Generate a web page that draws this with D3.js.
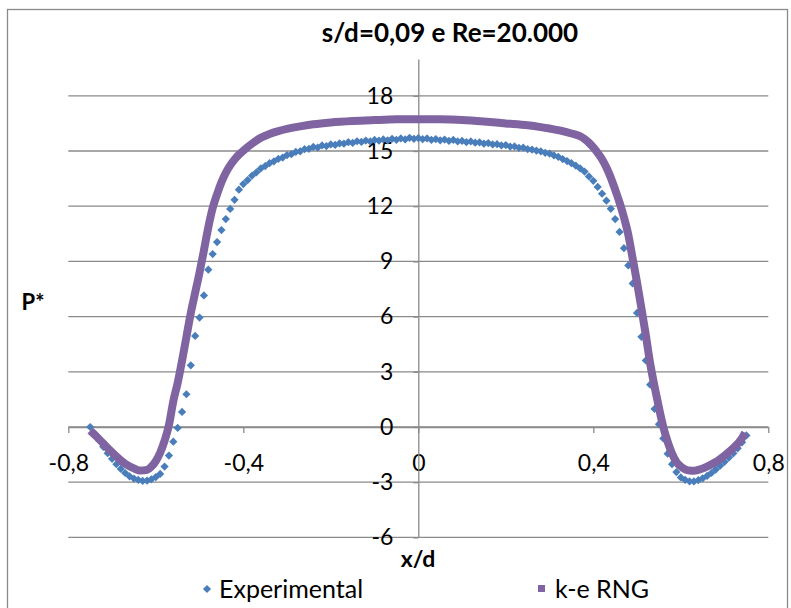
<!DOCTYPE html>
<html>
<head>
<meta charset="utf-8">
<script src="https://cdn.jsdelivr.net/npm/d3@7"></script>
<style>
  body { margin: 0; background: #fff; }
  svg text { font-family: Lato, "Open Sans", sans-serif; fill: #000; }
</style>
</head>
<body>
<svg id="chart" width="791" height="608"></svg>
<script>
var title = "s/d=0,09 e Re=20.000";
var seriesNames = ["Experimental", "k-e RNG"];

var xTicks = [-0.8, -0.4, 0, 0.4, 0.8];
var xTickLabels = ["-0,8", "-0,4", "0", "0,4", "0,8"];
var yTicks = [-6, -3, 0, 3, 6, 9, 12, 15, 18];
var yTickLabels = ["-6", "-3", "0", "3", "6", "9", "12", "15", "18"];

// experimental points
var expX = [-0.75, -0.74, -0.73, -0.72, -0.71, -0.70, -0.69, -0.68, -0.67, -0.66,
  -0.65, -0.64, -0.63, -0.62, -0.61, -0.60, -0.59, -0.58, -0.57, -0.56,
  -0.55, -0.54, -0.53, -0.52, -0.51, -0.50, -0.49, -0.48, -0.47, -0.46,
  -0.45, -0.44, -0.43, -0.42, -0.41, -0.40, -0.39, -0.38, -0.37, -0.36,
  -0.35, -0.34, -0.33, -0.32, -0.31, -0.30, -0.29, -0.28, -0.27, -0.26,
  -0.25, -0.24, -0.23, -0.22, -0.21, -0.20, -0.19, -0.18, -0.17, -0.16,
  -0.15, -0.14, -0.13, -0.12, -0.11, -0.10, -0.09, -0.08, -0.07, -0.06,
  -0.05, -0.04, -0.03, -0.02, -0.01, 0.00, 0.01, 0.02, 0.03, 0.04,
  0.05, 0.06, 0.07, 0.08, 0.09, 0.10, 0.11, 0.12, 0.13, 0.14,
  0.15, 0.16, 0.17, 0.18, 0.19, 0.20, 0.21, 0.22, 0.23, 0.24,
  0.25, 0.26, 0.27, 0.28, 0.29, 0.30, 0.31, 0.32, 0.33, 0.34,
  0.35, 0.36, 0.37, 0.38, 0.39, 0.40, 0.41, 0.42, 0.43, 0.44,
  0.45, 0.46, 0.47, 0.48, 0.49, 0.50, 0.51, 0.52, 0.53, 0.54,
  0.55, 0.56, 0.57, 0.58, 0.59, 0.60, 0.61, 0.62, 0.63, 0.64,
  0.65, 0.66, 0.67, 0.68, 0.69, 0.70, 0.71, 0.72, 0.73, 0.74, 0.75];
var expP = [0.00, -0.35, -0.72, -1.08, -1.42, -1.73, -2.02, -2.28, -2.50, -2.68,
  -2.80, -2.88, -2.93, -2.92, -2.84, -2.72, -2.55, -2.15, -1.55, -0.80,
  -0.05, 0.82, 1.78, 3.35, 4.95, 5.95, 7.15, 8.55, 9.40, 10.05,
  10.70, 11.30, 11.85, 12.35, 12.90, 13.20, 13.42, 13.66, 13.84, 14.05,
  14.18, 14.34, 14.44, 14.57, 14.64, 14.78, 14.83, 14.95, 14.98, 15.10,
  15.12, 15.22, 15.19, 15.30, 15.27, 15.36, 15.33, 15.42, 15.40, 15.48,
  15.44, 15.53, 15.49, 15.57, 15.52, 15.60, 15.56, 15.63, 15.58, 15.66,
  15.61, 15.68, 15.63, 15.72, 15.66, 15.70, 15.64, 15.68, 15.60, 15.65,
  15.58, 15.62, 15.55, 15.60, 15.52, 15.55, 15.48, 15.52, 15.45, 15.47,
  15.40, 15.43, 15.36, 15.37, 15.30, 15.32, 15.24, 15.25, 15.17, 15.18,
  15.10, 15.08, 15.02, 14.98, 14.90, 14.86, 14.76, 14.68, 14.56, 14.45,
  14.34, 14.20, 14.05, 13.88, 13.62, 13.38, 13.05, 12.68, 12.30, 11.86,
  11.30, 10.60, 9.72, 8.78, 7.80, 6.20, 4.90, 3.62, 2.30, 0.98,
  0.15, -0.62, -1.45, -2.02, -2.45, -2.74, -2.88, -2.95, -2.96, -2.89,
  -2.79, -2.66, -2.50, -2.31, -2.10, -1.89, -1.66, -1.43, -1.16, -0.83, -0.46];

// k-e RNG simulation curve
var rngX = [-0.75, -0.73, -0.71, -0.69, -0.67, -0.65, -0.635, -0.62, -0.61, -0.60,
  -0.59, -0.58, -0.57, -0.56, -0.55, -0.54, -0.53, -0.52, -0.51, -0.50,
  -0.49, -0.48, -0.47, -0.46, -0.45, -0.44, -0.43, -0.42, -0.41, -0.40,
  -0.38, -0.36, -0.34, -0.32, -0.30, -0.27, -0.24, -0.20, -0.15, -0.10,
  -0.05, 0.00, 0.05, 0.10, 0.15, 0.20, 0.25, 0.28, 0.30, 0.33,
  0.35, 0.37, 0.38, 0.39, 0.40, 0.41, 0.42, 0.43, 0.44, 0.45,
  0.46, 0.47, 0.48, 0.49, 0.50, 0.51, 0.52, 0.53, 0.54, 0.55,
  0.56, 0.57, 0.58, 0.59, 0.60, 0.61, 0.62, 0.63, 0.64, 0.66,
  0.68, 0.70, 0.72, 0.74, 0.747];
var rngP = [-0.20, -0.65, -1.15, -1.60, -2.00, -2.25, -2.37, -2.33, -2.15, -1.85,
  -1.40, -0.75, 0.10, 1.40, 2.40, 3.60, 4.90, 6.20, 7.30, 8.40,
  9.60, 10.85, 11.90, 12.65, 13.30, 13.82, 14.22, 14.54, 14.80, 15.02,
  15.40, 15.72, 15.93, 16.08, 16.20, 16.34, 16.45, 16.55, 16.63, 16.68,
  16.72, 16.73, 16.72, 16.68, 16.60, 16.50, 16.40, 16.30, 16.22, 16.08,
  15.95, 15.80, 15.65, 15.45, 15.20, 14.90, 14.55, 14.10, 13.55, 12.90,
  12.20, 11.40, 10.45, 9.15, 7.85, 6.45, 5.00, 3.45, 2.20, 1.05,
  0.00, -0.80, -1.45, -1.90, -2.15, -2.30, -2.37, -2.38, -2.33, -2.15,
  -1.90, -1.55, -1.15, -0.60, -0.31];

var colors = ["#4a7ebb", "#8064a2"];
var gridColor = "#8a8a8a";

var svg = d3.select("#chart");

var x = d3.scaleLinear().domain([-0.8, 0.8]).range([68.3, 768.3]);
var y = d3.scaleLinear().domain([-6, 20]).range([537.4, 59]);

// chart border
svg.append("rect")
  .attr("x", 7.5).attr("y", 9.5).attr("width", 780).attr("height", 620)
  .attr("fill", "none").attr("stroke", gridColor).attr("stroke-width", 1.3);

svg.append("text")
  .attr("x", 450).attr("y", 42)
  .attr("text-anchor", "middle")
  .style("font-size", "26px").style("font-weight", "bold")
  .text(title);

// horizontal gridlines
svg.append("g").selectAll("line").data(yTicks).enter().append("line")
  .attr("x1", x.range()[0]).attr("x2", x.range()[1])
  .attr("y1", function(d) { return y(d); })
  .attr("y2", function(d) { return y(d); })
  .attr("stroke", gridColor).attr("stroke-width", 1.3);

var xAxis = svg.append("g")
  .attr("transform", "translate(0," + y(0) + ")")
  .call(d3.axisBottom(x).tickValues(xTicks).tickSize(6).tickSizeOuter(0).tickPadding(22)
    .tickFormat(function(d, i) { return xTickLabels[i]; }));

var yAxis = svg.append("g")
  .attr("transform", "translate(" + x(0) + ",0)")
  .call(d3.axisLeft(y).tickValues(yTicks).tickSize(5).tickSizeOuter(0).tickPadding(20)
    .tickFormat(function(d, i) { return yTickLabels[i]; }));

[xAxis, yAxis].forEach(function(g) {
  g.selectAll("path, line").attr("stroke", gridColor).attr("stroke-width", 1.3);
  g.selectAll("text").style("font-size", "23px").attr("fill", "#000")
    .style("font-family", "Lato, 'Open Sans', sans-serif");
});

// experimental markers
var diamond = d3.symbol().type(d3.symbolSquare).size(34);
svg.append("g").selectAll("path").data(expX).enter().append("path")
  .attr("d", diamond)
  .attr("transform", function(d, i) { return "translate(" + x(d) + "," + y(expP[i]) + ") rotate(45)"; })
  .attr("fill", colors[0]);

// k-e RNG curve
var line = d3.line()
  .x(function(d) { return x(d); })
  .y(function(d, i) { return y(rngP[i]); })
  .curve(d3.curveMonotoneX);

svg.append("path")
  .datum(rngX)
  .attr("d", line)
  .attr("fill", "none")
  .attr("stroke", colors[1])
  .attr("stroke-width", 8)
  .attr("stroke-linejoin", "round");

// axis titles
svg.append("text")
  .attr("x", 33).attr("y", 310)
  .attr("text-anchor", "middle")
  .style("font-size", "22px").style("font-weight", "bold")
  .text("P*");

svg.append("text")
  .attr("x", 418).attr("y", 567)
  .attr("text-anchor", "middle")
  .style("font-size", "23px").style("font-weight", "bold")
  .text("x/d");

// legend
var legend = svg.append("g");
legend.append("path")
  .attr("d", diamond)
  .attr("transform", "translate(207,589) rotate(45)")
  .attr("fill", colors[0]);
legend.append("text")
  .attr("x", 219).attr("y", 598)
  .style("font-size", "25px")
  .text(seriesNames[0]);
legend.append("rect")
  .attr("x", 538).attr("y", 585).attr("width", 7).attr("height", 7)
  .attr("fill", colors[1]);
legend.append("text")
  .attr("x", 555).attr("y", 598)
  .style("font-size", "25px")
  .text(seriesNames[1]);
</script>
</body>
</html>
